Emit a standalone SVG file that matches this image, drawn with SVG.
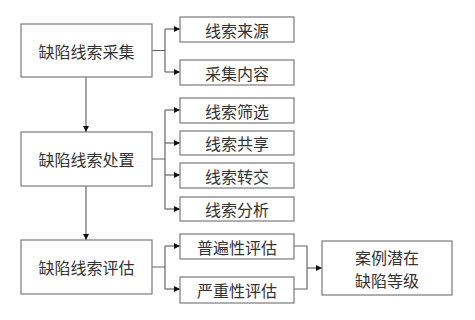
<svg xmlns="http://www.w3.org/2000/svg" width="475" height="320" viewBox="0 0 475 320">
<defs>
<marker id="ah" markerWidth="6" markerHeight="6" refX="6" refY="3" orient="auto" markerUnits="userSpaceOnUse">
<path d="M0,0 L6,3 L0,6 Z" fill="#111"/>
</marker>
<style>
.box{fill:#fff;stroke:#7a7a7a;stroke-width:1.2}
.t{font-family:"Noto Sans CJK SC","Noto Sans",sans-serif;font-size:16px;fill:#333;text-anchor:middle;dominant-baseline:central}
.ln{fill:none;stroke:#666;stroke-width:1.2}
.ar{fill:none;stroke:#666;stroke-width:1.2;marker-end:url(#ah)}
</style>
</defs>
<rect width="475" height="320" fill="#fff"/>
<g id="connectors">
<path class="ar" d="M86,77 V132"/>
<path class="ar" d="M86,186 V240"/>
<path class="ln" d="M152,50.5 H165 M165,29 V72"/>
<path class="ar" d="M165,29 H180"/>
<path class="ar" d="M165,72 H180"/>
<path class="ln" d="M152,159 H165 M165,110 V209"/>
<path class="ar" d="M165,110 H180"/>
<path class="ar" d="M165,143 H180"/>
<path class="ar" d="M165,175 H180"/>
<path class="ar" d="M165,209 H180"/>
<path class="ln" d="M152,267 H165 M165,246 V289"/>
<path class="ar" d="M165,246 H180"/>
<path class="ar" d="M165,289 H180"/>
<path class="ln" d="M294,246 H307 V289 H294"/>
<path class="ar" d="M307,268 H322"/>
</g>
<g id="n1"><rect class="box" x="21" y="24" width="131" height="53"/><text class="t" x="86.5" y="50.5">缺陷线索采集</text></g>
<g id="n2"><rect class="box" x="21" y="132" width="131" height="54"/><text class="t" x="86.5" y="159">缺陷线索处置</text></g>
<g id="n3"><rect class="box" x="21" y="240" width="131" height="54"/><text class="t" x="86.5" y="267">缺陷线索评估</text></g>
<g id="s1"><rect class="box" x="180" y="17" width="114" height="25"/><text class="t" x="237" y="29.5">线索来源</text></g>
<g id="s2"><rect class="box" x="180" y="60" width="114" height="25"/><text class="t" x="237" y="72.5">采集内容</text></g>
<g id="s3"><rect class="box" x="180" y="98" width="114" height="25"/><text class="t" x="237" y="110.5">线索筛选</text></g>
<g id="s4"><rect class="box" x="180" y="131" width="114" height="24"/><text class="t" x="237" y="143">线索共享</text></g>
<g id="s5"><rect class="box" x="180" y="163" width="114" height="25"/><text class="t" x="237" y="175.5">线索转交</text></g>
<g id="s6"><rect class="box" x="180" y="197" width="114" height="24"/><text class="t" x="237" y="209">线索分析</text></g>
<g id="s7"><rect class="box" x="180" y="234" width="114" height="25"/><text class="t" x="237" y="246.5">普遍性评估</text></g>
<g id="s8"><rect class="box" x="180" y="277" width="114" height="26"/><text class="t" x="237" y="290">严重性评估</text></g>
<g id="r"><rect class="box" x="322" y="241" width="130" height="54"/><text class="t" x="387" y="256.5">案例潜在</text><text class="t" x="387" y="279.5">缺陷等级</text></g>
</svg>
